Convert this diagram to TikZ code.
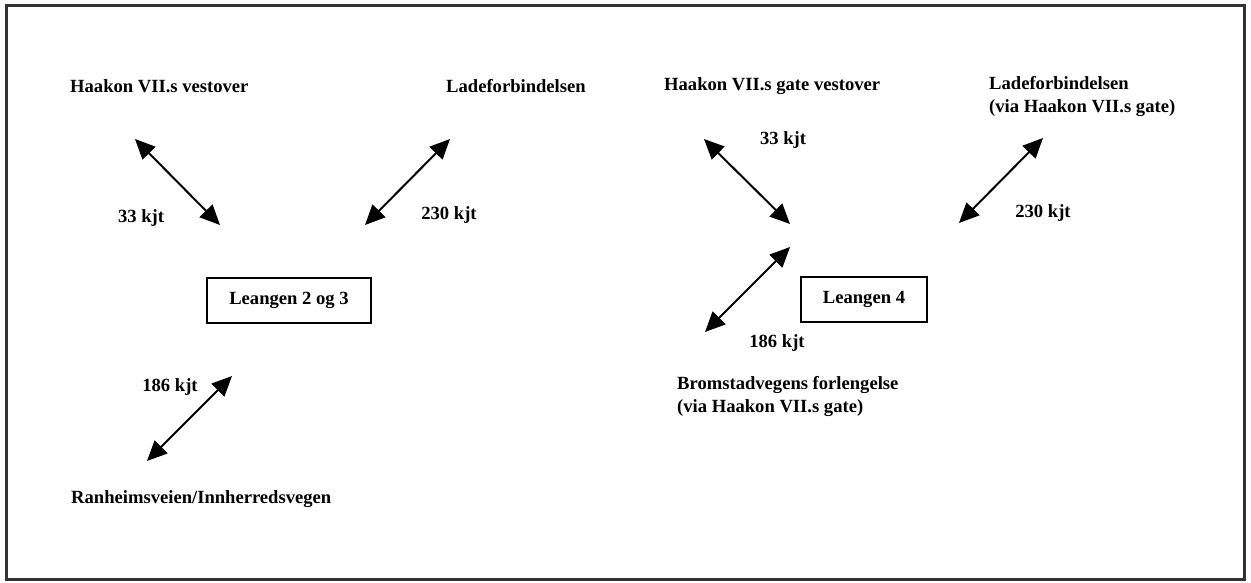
\documentclass[tikz,border=0pt]{standalone}
\usepackage{fontspec}
\setmainfont{Liberation Serif}
\usetikzlibrary{arrows.meta}
\usetikzlibrary{positioning}
\tikzset{>={Triangle[length=20pt,width=18pt]}}
\colorlet{background}{white}
\colorlet{penColor}{black}
\colorlet{frameColor}{black!80}
\tikzset{
	roadtext/.style={penColor, inner sep=0pt, align=left, font=\bfseries\fontsize{18.6}{23}\selectfont},
	areabox/.style={roadtext, draw, line width=2pt, minimum height=45pt},
	traffic/.style={<->, penColor, line width=2pt}
}

\begin{document}
\begin{tikzpicture}[x=1pt,y=-1pt]
				\useasboundingbox (0,0) rectangle (1251,582);
				\draw[frameColor, line width=3pt] (6,5) rectangle (1244,579);
				
				% Leangen 2 og 3
				\node [areabox, minimum width=164pt] (leangenA) at (289,300) {Leangen 2 og 3};
				\node [roadtext, anchor=west] (haakonA) at (70,86) {Haakon VII.s vestover};
				\node [roadtext, anchor=west] (ladeA) at (446,86) {Ladeforbindelsen};
				\node [roadtext, anchor=west] (ranheim) at (71,499) {Ranheimsveien/Innherredsvegen};
				\node [roadtext] (kjtA33) at (141,218) {33 kjt};
				\node [roadtext] (kjtA230) at (449,215) {230 kjt};
				\node [roadtext] (kjtA186) at (170,387) {186 kjt};
				\coordinate (a1) at (135,139);
				\coordinate (a2) at (220,225);
				\coordinate (a3) at (450,139);
				\coordinate (a4) at (365,225);
				\coordinate (a5) at (232,376);
				\coordinate (a6) at (147,461);
				\draw[traffic] (a1) -- (a2);
				\draw[traffic] (a3) -- (a4);
				\draw[traffic] (a5) -- (a6);
				
				% Leangen 4
				\node [areabox, minimum width=126pt] (leangenB) at (864,299) {Leangen 4};
				\node [roadtext, anchor=west] (haakonB) at (664,86) {Haakon VII.s gate vestover};
				\node [roadtext, anchor=west] (ladeB) at (989,96) {Ladeforbindelsen\\(via Haakon VII.s gate)};
				\node [roadtext, anchor=west] (bromstad) at (677,396) {Bromstadvegens forlengelse\\(via Haakon VII.s gate)};
				\node [roadtext] (kjtB33) at (783,140) {33 kjt};
				\node [roadtext] (kjtB230) at (1043,213) {230 kjt};
				\node [roadtext] (kjtB186) at (777,343) {186 kjt};
				\coordinate (b1) at (704,139);
				\coordinate (b2) at (790,224);
				\coordinate (b3) at (1043,138);
				\coordinate (b4) at (959,223);
				\coordinate (b5) at (790,247);
				\coordinate (b6) at (705,332);
				\draw[traffic] (b1) -- (b2);
				\draw[traffic] (b3) -- (b4);
				\draw[traffic] (b5) -- (b6);
\end{tikzpicture}
\end{document}
